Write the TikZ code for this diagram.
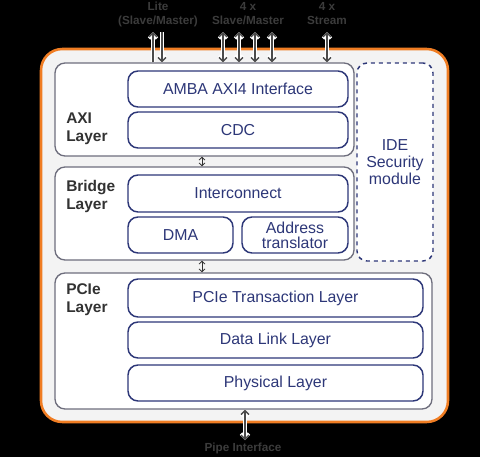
\documentclass[tikz,border=0pt]{standalone}
\usepackage{fontspec}
\setmainfont{Liberation Sans}
\usetikzlibrary{arrows.meta}

\definecolor{navy}{RGB}{45,55,120}
\definecolor{layergray}{RGB}{110,110,125}
\definecolor{coreorange}{RGB}{240,125,35}
\definecolor{corefill}{RGB}{243,243,243}
\definecolor{pingray}{RGB}{75,75,75}
\definecolor{porttext}{RGB}{60,60,60}

\tikzset{
  block/.style={draw=navy, line width=1.1pt, fill=white, rounded corners=7.5pt,
    text=navy, font=\fontsize{11.9}{12.75}\selectfont, align=center, inner sep=0pt},
  layerbox/.style={draw=layergray, line width=1pt, fill=white, rounded corners=7.5pt, inner sep=0pt},
  layerlabel/.style={anchor=west, align=left, text={rgb,255:red,50;green,50;blue,50},
    font=\fontsize{11.6}{13.5}\selectfont\bfseries, inner sep=0pt},
  portlabel/.style={align=center, text=porttext, font=\fontsize{8.8}{10.5}\selectfont\bfseries, inner sep=0pt},
  pin/.style={draw=pingray, line width=1pt, preaction={draw=white, line width=2.6pt}},
  pinhead/.tip={Straight Barb[length=3pt,width=6pt]},
  linkhead/.tip={Straight Barb[length=2.2pt,width=4.5pt]},
  link/.style={draw={rgb,255:red,50;green,50;blue,50}, line width=0.6pt, linkhead-linkhead}
}

\begin{document}
\begin{tikzpicture}[x=0.75pt,y=0.75pt,yscale=-1]
%Shape: background
\fill [black] (0,0) rectangle (480,457);
\useasboundingbox (0,0) rectangle (480,457);

%Shape: outer core
\node [draw=coreorange, line width=1.9pt, fill=corefill, rounded corners=16pt, minimum width=305.25pt, minimum height=279.75pt, inner sep=0pt] (core) at (244.5,235.5) {};

%Shape: layers
\node [layerbox, minimum width=224.25pt, minimum height=69.75pt] (axi) at (204.5,109.5) {};
\node [layerbox, minimum width=224.25pt, minimum height=69.75pt] (bridge) at (204.5,213.5) {};
\node [layerbox, minimum width=282.75pt, minimum height=102pt] (pcie) at (243.5,341) {};
%Shape: IDE dashed box
\node [block, dashed, minimum width=57pt, minimum height=148.5pt] (ide) at (395,162) {IDE\\Security\\module};

% Layer labels
\node [layerlabel] (axilbl) at (66,129) {AXI\\Layer};
\node [layerlabel] (bridgelbl) at (66,196.5) {Bridge\\Layer};
\node [layerlabel] (pcielbl) at (66,300) {PCIe\\Layer};

% Blocks
\node [block, minimum width=165pt, minimum height=27pt] (amba) at (238,89) {AMBA AXI4 Interface};
\node [block, minimum width=165pt, minimum height=27pt] (cdc) at (238,130) {CDC};
\node [block, minimum width=165pt, minimum height=27.75pt] (icon) at (238,193.5) {Interconnect};
\node [block, minimum width=78.75pt, minimum height=27pt] (dma) at (180.5,235) {DMA};
\node [block, minimum width=79.5pt, minimum height=27pt, font=\fontsize{11.9}{11.25}\selectfont] (addr) at (295,235) {Address\\translator};
\node [block, minimum width=221.25pt, minimum height=28.5pt] (ptl) at (275.5,298) {PCIe Transaction Layer};
\node [block, minimum width=221.25pt, minimum height=27pt] (dll) at (275.5,340) {Data Link Layer};
\node [block, minimum width=221.25pt, minimum height=27pt] (phy) at (275.5,383) {Physical Layer};

% Port labels
\node [portlabel] (litelbl) at (158,14) {Lite\\(Slave/Master)};
\node [portlabel] (smlbl) at (248,14) {4 x\\Slave/Master};
\node [portlabel] (strlbl) at (327,14) {4 x\\Stream};
\node [portlabel] (pipelbl) at (243,448) {Pipe Interface};

% Port pins
\coordinate (p1) at (153,32);
\coordinate (p2) at (162,32);
\coordinate (p3) at (223,32);
\coordinate (p4) at (239,32);
\coordinate (p5) at (255,32);
\coordinate (p6) at (272,32);
\coordinate (p7) at (327,32);
\coordinate (p8) at (245,440);
\draw [pin, -pinhead] (p1 |- axi.north) -- (p1);
\draw [pin, -pinhead] (p2) -- (p2 |- axi.north);
\foreach \p in {p3,p4,p5,p6,p7}
  \draw [pin, pinhead-pinhead] (\p) -- (\p |- axi.north);
\draw [pin, pinhead-pinhead] (p8 |- pcie.south) -- (p8);

% Layer links
\coordinate (lx) at (202,0);
\draw [link] (lx |- axi.south) -- (lx |- bridge.north);
\draw [link] (lx |- bridge.south) -- (lx |- pcie.north);

\end{tikzpicture}
\end{document}
